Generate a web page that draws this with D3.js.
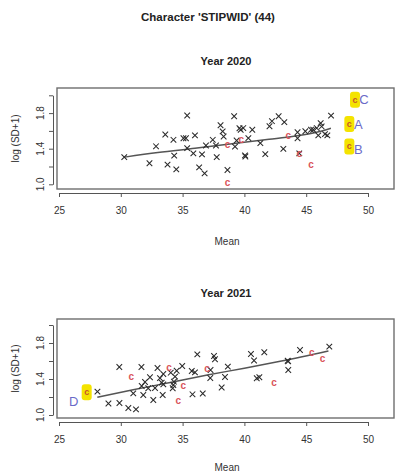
<!DOCTYPE html>
<html>
<head>
<meta charset="utf-8">
<script src="https://cdn.jsdelivr.net/npm/d3@7"></script>
<style>
  html, body { margin: 0; padding: 0; background: #fff; }
  svg { display: block; font-family: "Liberation Sans", Arial, sans-serif; }
</style>
</head>
<body>
<svg id="chart" width="400" height="474"></svg>
<script>
// ---- data: mean vs log(SD+1) per accession ----
const xTicks = [25, 30, 35, 40, 45, 50];
const yTicks = [1.0, 1.2, 1.4, 1.6, 1.8, 2.0];
const yLabelTicks = [1.0, 1.4, 1.8];

// 2020
const pts2020 = [
  [30.28,1.305],[32.32,1.237],[32.85,1.427],[33.60,1.560],[33.78,1.221],[34.26,1.500],
  [34.32,1.322],[34.49,1.167],[35.07,1.517],[35.27,1.517],[35.37,1.773],[35.37,1.406],
  [35.87,1.348],[36.00,1.549],[36.34,1.190],[36.57,1.336],[36.78,1.122],[36.89,1.436],
  [37.44,1.500],[37.70,1.436],[37.76,1.305],[38.07,1.664],[38.24,1.594],[38.32,1.537],
  [38.63,1.161],[39.17,1.765],[39.24,1.424],[39.37,1.492],[39.60,1.630],[39.70,1.613],
  [39.91,1.632],[40.05,1.325],[40.08,1.312],[40.32,1.519],[40.64,1.613],[41.29,1.463],
  [41.69,1.339],[42.03,1.652],[42.23,1.709],[42.77,1.765],[43.15,1.398],[43.23,1.698],
  [44.30,1.585],[44.30,1.517],[44.44,1.348],[44.93,1.596],[45.39,1.613],[45.57,1.613],
  [45.85,1.632],[46.17,1.688],[46.25,1.650],[45.98,1.549],[46.52,1.564],[46.71,1.549],
  [47.01,1.771]
];
const checks2020 = [
  [38.63,1.444],[38.63,1.020],[39.75,1.503],[43.55,1.540],[44.44,1.348],[45.39,1.221]
];
const fit2020 = [
  [30.3,1.305],[33,1.357],[36,1.405],[39,1.455],[42,1.505],[44,1.540],[46,1.590],[47,1.630]
];
const tags2020 = [
  { label: "C", x: 48.95, y: 1.951 },
  { label: "A", x: 48.49, y: 1.677 },
  { label: "B", x: 48.49, y: 1.424 }
];

// 2021
const pts2021 = [
  [28.11,1.259],[29.00,1.128],[29.88,1.533],[29.89,1.133],[30.61,1.078],[31.23,1.063],
  [31.67,1.533],[31.01,1.241],[31.69,1.322],[31.82,1.222],[31.96,1.367],[32.22,1.297],
  [32.36,1.419],[32.63,1.167],[32.77,1.300],[32.97,1.522],[33.17,1.410],[33.31,1.359],
  [33.39,1.222],[33.44,1.456],[33.44,1.341],[34.04,1.470],[34.25,1.333],[34.20,1.297],
  [34.30,1.370],[34.39,1.426],[34.52,1.492],[34.97,1.544],[35.80,1.230],[35.74,1.489],
  [36.00,1.474],[36.19,1.674],[36.63,1.239],[37.26,1.500],[37.24,1.411],[37.54,1.656],
  [37.62,1.619],[38.16,1.306],[38.43,1.422],[38.66,1.537],[40.53,1.678],[40.78,1.606],
  [41.00,1.408],[41.21,1.419],[41.61,1.697],[43.50,1.603],[43.54,1.596],[43.55,1.500],
  [44.50,1.722],[46.87,1.759]
];
const checks2021 = [
  [30.85,1.422],[33.90,1.522],[35.06,1.326],[34.65,1.156],[36.97,1.511],[42.40,1.363],
  [45.45,1.692],[46.33,1.622]
];
const fit2021 = [
  [28.1,1.197],[31,1.280],[34,1.362],[37,1.444],[40,1.520],[43,1.600],[46.8,1.712]
];
const tags2021 = [
  { label: "D", x: 27.24, y: 1.252, left: true }
];

const svg = d3.select("#chart");
const ink = "#222";

svg.append("text")
  .attr("x", 208).attr("y", 21)
  .attr("text-anchor", "middle")
  .attr("font-size", 11.5).attr("font-weight", "bold").attr("fill", ink)
  .text("Character 'STIPWID' (44)");

function panel(cfg) {
  const x = d3.scaleLinear().domain([25, 50]).range([59, 368]);
  const y = d3.scaleLinear().domain([1, 2]).range(cfg.yRange);
  const g = svg.append("g");

  g.append("text")
    .attr("x", 226).attr("y", cfg.titleY)
    .attr("text-anchor", "middle")
    .attr("font-size", 11).attr("font-weight", "bold").attr("fill", ink)
    .text(cfg.title);

  // plot frame
  g.append("rect")
    .attr("x", 57).attr("y", cfg.box[0])
    .attr("width", 337).attr("height", cfg.box[1] - cfg.box[0])
    .attr("fill", "none").attr("stroke", "#6e6e6e").attr("stroke-width", 1.4);

  // x axis
  const xa = g.append("g")
    .attr("transform", `translate(0,${cfg.xAxisY})`)
    .call(d3.axisBottom(x).tickValues(xTicks).tickSize(4).tickSizeOuter(0).tickPadding(10));
  xa.selectAll("path, line").attr("stroke", "#555").attr("stroke-width", 1);
  xa.selectAll("text").attr("font-size", 10).attr("fill", "#333")
    .attr("font-family", "'Liberation Sans', Arial, sans-serif");

  // y axis
  const ya = g.append("g")
    .attr("transform", "translate(53,0)")
    .call(d3.axisLeft(y).tickValues(yTicks).tickSize(4).tickSizeOuter(0).tickFormat(""));
  ya.selectAll("path, line").attr("stroke", "#555").attr("stroke-width", 1);
  g.selectAll(null).data(yLabelTicks).enter().append("text")
    .attr("transform", d => `translate(43.5,${y(d)}) rotate(-90)`)
    .attr("text-anchor", "middle")
    .attr("font-size", 10).attr("fill", "#333")
    .text(d => d.toFixed(1));

  g.append("text")
    .attr("transform", `translate(19,${(cfg.box[0] + cfg.box[1]) / 2}) rotate(-90)`)
    .attr("text-anchor", "middle")
    .attr("font-size", 10).attr("fill", "#333")
    .text("log (SD+1)");

  g.append("text")
    .attr("x", 227).attr("y", cfg.meanY)
    .attr("text-anchor", "middle")
    .attr("font-size", 10).attr("fill", "#333")
    .text("Mean");

  // fitted trend
  g.append("path")
    .datum(cfg.fit)
    .attr("d", d3.line().x(d => x(d[0])).y(d => y(d[1])).curve(d3.curveMonotoneX))
    .attr("fill", "none").attr("stroke", "#555").attr("stroke-width", 1.5);

  // accessions
  const r = 2.8;
  g.selectAll(null).data(cfg.pts).enter().append("path")
    .attr("transform", d => `translate(${x(d[0])},${y(d[1])})`)
    .attr("d", `M${-r},${-r}L${r},${r}M${-r},${r}L${r},${-r}`)
    .attr("stroke", "#2a2a2a").attr("stroke-width", 1.05).attr("fill", "none");

  // check varieties
  g.selectAll(null).data(cfg.checks).enter().append("text")
    .attr("x", d => x(d[0])).attr("y", d => y(d[1]))
    .attr("dy", "0.32em")
    .attr("text-anchor", "middle")
    .attr("font-size", 10).attr("font-weight", "bold").attr("fill", "#d9545a")
    .text("c");

  // highlighted checks with labels
  cfg.tags.forEach(t => {
    const cx = x(t.x), cy = y(t.y);
    g.append("rect")
      .attr("x", cx - 5).attr("y", cy - 8)
      .attr("width", 10).attr("height", 16).attr("rx", 3)
      .attr("fill", "#f4e300");
    g.append("text")
      .attr("x", cx).attr("y", cy).attr("dy", "0.32em")
      .attr("text-anchor", "middle")
      .attr("font-size", 9).attr("font-weight", "bold").attr("fill", "#c8552a")
      .text("c");
    g.append("text")
      .attr("x", t.left ? cx - 13 : cx + 9)
      .attr("y", cy + (t.label === "B" ? 3 : t.left ? 9 : 0))
      .attr("dy", "0.35em")
      .attr("text-anchor", "middle")
      .attr("font-size", 13).attr("fill", "#6a6ac8")
      .text(t.label);
  });
}

panel({
  title: "Year  2020", titleY: 65,
  yRange: [184.3, 95.3], box: [88, 189], xAxisY: 193, meanY: 245,
  pts: pts2020, checks: checks2020, fit: fit2020, tags: tags2020
});

panel({
  title: "Year  2021", titleY: 297,
  yRange: [415, 325], box: [319, 418], xAxisY: 422, meanY: 471,
  pts: pts2021, checks: checks2021, fit: fit2021, tags: tags2021
});
</script>
</body>
</html>
